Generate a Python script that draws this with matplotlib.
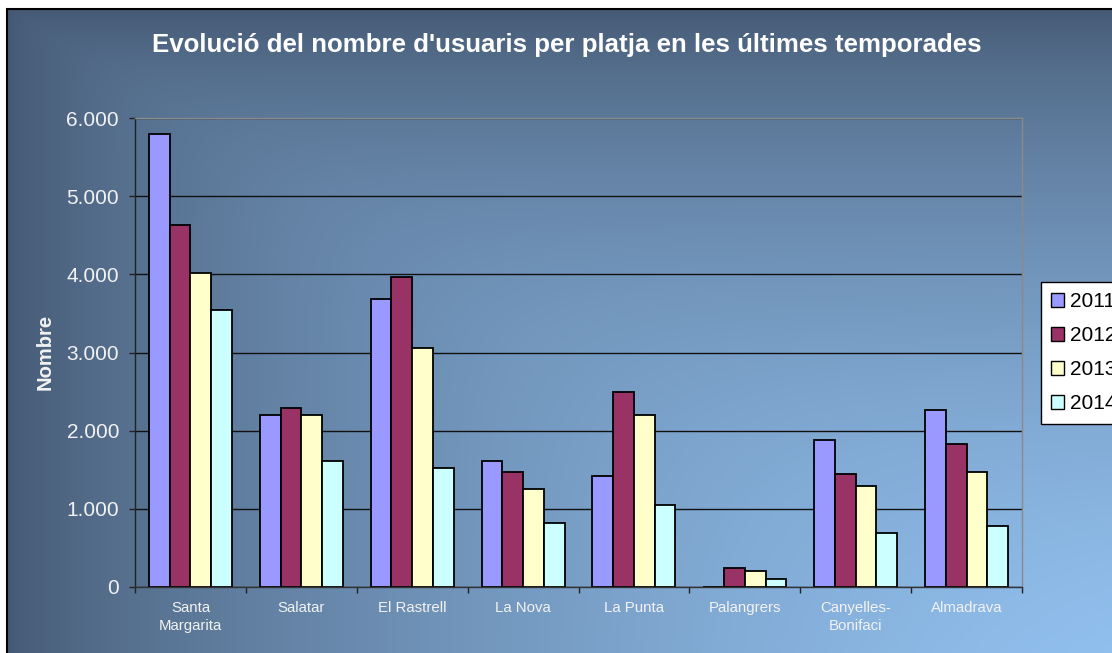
import numpy as np
import matplotlib
matplotlib.use("Agg")
import matplotlib.pyplot as plt
from matplotlib.ticker import FuncFormatter, FixedLocator
from matplotlib.patches import Rectangle

plt.rcParams['font.family'] = ['Liberation Sans', 'DejaVu Sans']

title = "Evolució del nombre d'usuaris per platja en les últimes temporades"
ylabel = "Nombre"
categories = ["Santa\nMargarita", "Salatar", "El Rastrell", "La Nova", "La Punta",
              "Palangrers", "Canyelles-\nBonifaci", "Almadrava"]
years = ["2011", "2012", "2013", "2014"]
v2011 = [5800, 2200, 3690, 1610, 1420, 0, 1880, 2265]
v2012 = [4630, 2290, 3960, 1470, 2490, 245, 1445, 1830]
v2013 = [4020, 2200, 3060, 1250, 2200, 205, 1290, 1470]
v2014 = [3540, 1610, 1520, 820, 1050, 100, 690, 780]
series = [v2011, v2012, v2013, v2014]
colors = ["#9999ff", "#993366", "#ffffcc", "#ccffff"]
yticks = [0, 1000, 2000, 3000, 4000, 5000, 6000]

W, H = 1112, 653
fig = plt.figure(figsize=(W / 100, H / 100), dpi=100)
fig.patch.set_facecolor("white")

# background gradient (chart area), starting at x=7px, top at y=9px
bx0 = 7 / W
btop = 1 - 9 / H
bg = fig.add_axes([bx0, 0, 1 - bx0, btop], zorder=-10)
ny, nx = 300, 500
xs = np.linspace(0, 1, nx)
ys = np.linspace(0, 1, ny)
X, Y = np.meshgrid(xs, ys)
p = 5.0
t = (X ** -p + Y ** -p + 1e-12) ** (-1 / p)
t = np.clip(t, 0, 1) ** 0.7
dark = np.array([0x44, 0x58, 0x72]) / 255
light = np.array([0x99, 0xca, 0xfa]) / 255
img = dark[None, None, :] * (1 - t[..., None]) + light[None, None, :] * t[..., None]
bg.imshow(img, aspect="auto", extent=[0, 1, 1, 0], interpolation="bilinear")
bg.set_xlim(0, 1)
bg.set_ylim(1, 0)
bg.axis("off")
fig.add_artist(Rectangle((bx0, -0.1), 1.2, btop + 0.1, transform=fig.transFigure,
                         fill=False, edgecolor="black", linewidth=1.5, zorder=5))

# main axes
ax = fig.add_axes([135 / W, 1 - 587 / H, (1022 - 135) / W, (587 - 118) / H])
ax.set_facecolor("none")
x = np.arange(len(categories))
bw = 0.187
for i, (vals, col, yr) in enumerate(zip(series, colors, years)):
    ax.bar(x + (i - 1.5) * bw, vals, width=bw, color=col, edgecolor="black",
           linewidth=1.3, label=yr, zorder=3)

ax.set_xlim(-0.5, len(categories) - 0.5)
ax.set_ylim(0, 6000)
ax.yaxis.set_major_locator(FixedLocator(yticks))
ax.yaxis.set_major_formatter(FuncFormatter(lambda v, _: f"{v:,.0f}".replace(",", ".")))
ax.xaxis.set_major_locator(FixedLocator(np.arange(len(categories) + 1) - 0.5))
ax.xaxis.set_major_formatter(FuncFormatter(lambda v, _: ""))
ax.xaxis.set_minor_locator(FixedLocator(x))
ax.set_xticklabels(categories, minor=True)
ax.tick_params(axis="x", which="major", direction="out", length=4, width=1, color="#222222")
ax.tick_params(axis="x", which="minor", length=0, pad=10, labelsize=10.8, labelcolor="#f2f2f2")
ax.tick_params(axis="y", direction="out", length=4.5, width=1, color="#222222",
               pad=7, labelsize=15, labelcolor="#f2f2f2")
for lbl in ax.get_xticklabels(minor=True):
    lbl.set_linespacing(1.35)

ax.set_axisbelow(True)
ax.yaxis.grid(True, color="#111111", linewidth=1.0)
ax.spines["left"].set_color("#222222")
ax.spines["bottom"].set_color("#333333")
ax.spines["top"].set_color("#8a8a8a")
ax.spines["right"].set_color("#8a8a8a")
for s in ax.spines.values():
    s.set_linewidth(1.0)
    s.set_zorder(4)

fig.text(45 / W, 1 - 352 / H, ylabel, rotation=90, ha="center", va="center",
         fontsize=14.5, fontweight="bold", color="#f2f2f2")
fig.text(567 / W, 1 - 45 / H, title, ha="center", va="center",
         fontsize=18.6, fontweight="bold", color="white")

leg = ax.legend(loc="upper left", bbox_to_anchor=(1041 / W, 1 - 282 / H),
                bbox_transform=fig.transFigure, fontsize=15, frameon=True,
                fancybox=False, framealpha=1, facecolor="white", edgecolor="black",
                handlelength=0.6, handleheight=0.6, handletextpad=0.3,
                labelspacing=0.72, borderpad=0.5, borderaxespad=0)
leg.get_frame().set_linewidth(1.0)
for h in leg.legend_handles:
    h.set_linewidth(1.0)

fig.savefig("out.png", dpi=100)
